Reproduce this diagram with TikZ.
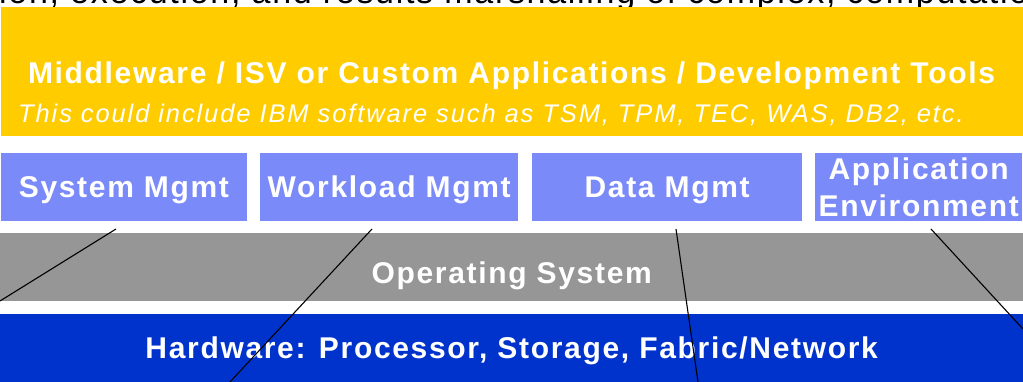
\documentclass[tikz,border=0pt]{standalone}
\usepackage{fontspec}
\setmainfont{Liberation Sans}
\newfontfamily\bandfont[LetterSpace=5.6]{Liberation Sans}
\newfontfamily\notefont[LetterSpace=7.4]{Liberation Sans}
\newfontfamily\topfont[LetterSpace=5.0]{Liberation Sans}
\definecolor{midyellow}{RGB}{255,204,0}
\definecolor{svcblue}{RGB}{122,138,248}
\definecolor{osgray}{RGB}{150,150,150}
\definecolor{hwblue}{RGB}{0,51,204}
\begin{document}
\begin{tikzpicture}[x=1pt,y=-1pt,
    band/.style={draw=none,inner sep=0pt,anchor=north west,text=white,
        font=\bandfont\bfseries\fontsize{30}{37}\selectfont},
    svcbox/.style={band,fill=svcblue,minimum height=67.5pt},
    oneline/.style={text height=21pt,text depth=0pt},
    lead/.style={line width=1.1pt,black}]
    \useasboundingbox (0,0) rectangle (1023,382);
    \clip (0,0) rectangle (1023,382);
    \node [anchor=base west,inner sep=0pt,font=\topfont\fontsize{34}{40}\selectfont] (cuttext) at (-1,4)
        {ion, execution, and results marshalling of complex, computatio};
    \node [band,fill=midyellow,minimum width=1022pt,minimum height=129pt] (mid) at (1,7) {};
    \node [band,anchor=base] (midtitle) at (511.5,83.3)
        {Middleware / ISV or Custom Applications / Development Tools};
    \node [anchor=base west,inner sep=0pt,text=white,font=\notefont\itshape\fontsize{25.5}{30}\selectfont] (midnote) at (18,122.7)
        {This could include IBM software such as TSM, TPM, TEC, WAS, DB2, etc.};
    \node [svcbox,oneline,minimum width=245.5pt] (sysmgmt) at (1,153) {System Mgmt};
    \node [svcbox,oneline,minimum width=258pt] (wlmgmt) at (260,153) {Workload Mgmt};
    \node [svcbox,oneline,minimum width=270pt] (datamgmt) at (532,153) {Data Mgmt};
    \node [svcbox,align=center,minimum width=207pt] (appenv) at (815,153) {Application\\Environment};
    \node [band,fill=osgray,minimum width=1023pt,minimum height=68pt,text height=32pt,text depth=0pt] (os) at (0,233) {Operating System};
    \node [band,oneline,fill=hwblue,minimum width=1023pt,minimum height=68pt] (hw) at (0,314) {Hardware: Processor, Storage, Fabric/Network};
    \coordinate (sysfoot) at (116,229);
    \coordinate (wlfoot) at (372,229);
    \coordinate (datafoot) at (676,229);
    \coordinate (appfoot) at (931,229);
    \coordinate (sysend) at (0,301);
    \coordinate (wlend) at (230,382);
    \coordinate (dataend) at (698,382);
    \coordinate (append) at (1023,329);
    \draw [lead] (sysfoot)--(sysend);
    \draw [lead] (wlfoot)--(wlend);
    \draw [lead] (datafoot)--(dataend);
    \draw [lead] (appfoot)--(append);
\end{tikzpicture}
\end{document}
